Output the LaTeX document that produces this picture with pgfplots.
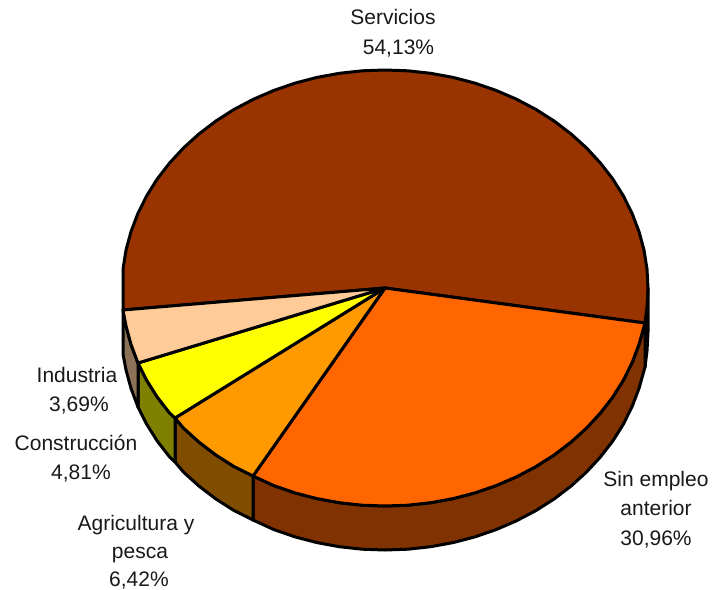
\documentclass[border=0pt]{standalone}
\usepackage{fontspec}
\setmainfont{Liberation Sans}
\usepackage{pgfplots}
\pgfplotsset{compat=1.18}

\definecolor{cServ}{HTML}{993300}
\definecolor{cSin}{HTML}{FF6600}
\definecolor{cAgr}{HTML}{FF9900}
\definecolor{cCon}{HTML}{FFFF00}
\definecolor{cInd}{HTML}{FFCC99}
\definecolor{wServ}{HTML}{4D1A00}
\definecolor{wSin}{HTML}{803300}
\definecolor{wAgr}{HTML}{804C00}
\definecolor{wCon}{HTML}{808000}
\definecolor{wInd}{HTML}{8C7358}

\newcommand{\lab}[3]{\node[anchor=base,inner sep=0pt,text=black!90] at (axis cs:#1,#2) {\fontsize{21bp}{25bp}\selectfont #3};}

\begin{document}
\begin{tikzpicture}
\begin{axis}[
    width=712bp,
    height=590bp,
    scale only axis,
    hide axis,
    clip=false,
    xmin=0, xmax=712,
    ymin=0, ymax=590,
    y dir=reverse,
    every axis plot/.append style={mark=none, draw=black, line width=3bp, line join=round},
]
% side walls
\addplot[fill=wServ] coordinates {
    (648,288)(647,307)(645,323)(645,367)(647,351)(648,332)
} -- cycle;
\addplot[fill=wSin] coordinates {
    (645,323)(639,344.4)(632.1,362.6)(623.4,380.1)(612.8,397)(600.4,413)(586.5,428.1)(571,442.1)
    (554.1,455)(535.9,466.6)(516.5,476.8)(496.1,485.6)(474.9,492.9)(453.1,498.6)(430.7,502.7)
    (407.9,505.2)(385,506)(362.1,505.2)(339.3,502.7)(316.9,498.6)(295.1,492.9)(273.9,485.6)(253,476)
    (253,520)(273.9,529.6)(295.1,536.9)(316.9,542.6)(339.3,546.7)(362.1,549.2)(385,550)(407.9,549.2)
    (430.7,546.7)(453.1,542.6)(474.9,536.9)(496.1,529.6)(516.5,520.8)(535.9,510.6)(554.1,499)
    (571,486.1)(586.5,472.1)(600.4,457)(612.8,441)(623.4,424.1)(632.1,406.6)(639,388.4)(645,367)
} -- cycle;
\addplot[fill=wAgr] coordinates {
    (253,476)(234.1,466.6)(215.9,455)(199,442.1)(183.5,428.1)(175,418)
    (175,462)(183.5,472.1)(199,486.1)(215.9,499)(234.1,510.6)(253,520)
} -- cycle;
\addplot[fill=wCon] coordinates {
    (175,418)(169.6,413)(157.2,397)(146.6,380.1)(138,363)
    (138,407)(146.6,424.1)(157.2,441)(169.6,457)(175,462)
} -- cycle;
\addplot[fill=wInd] coordinates {
    (138,363)(131,344.4)(126,325.9)(123,310)
    (123,354)(126,369.9)(131,388.4)(138,407)
} -- cycle;
% top of the pie
\addplot[fill=cServ] coordinates {
    (385,288)(123,310)(123,269)(126,250.1)(131,231.6)(137.9,213.4)(146.6,195.9)(157.2,179)
    (169.6,163)(183.5,147.9)(199,133.9)(215.9,121)(234.1,109.4)(253.5,99.2)(273.9,90.4)(295.1,83.1)
    (316.9,77.4)(339.3,73.3)(362.1,70.8)(385,70)(407.9,70.8)(430.7,73.3)(453.1,77.4)(474.9,83.1)
    (496.1,90.4)(516.5,99.2)(535.9,109.4)(554.1,121)(571,133.9)(586.5,147.9)(600.4,163)(612.8,179)
    (623.4,195.9)(632.1,213.4)(639,231.6)(644,250.1)(647,269)(648,288)(647,307)(645,323)
} -- cycle;
\addplot[fill=cSin] coordinates {
    (385,288)(645,323)(639,344.4)(632.1,362.6)(623.4,380.1)(612.8,397)(600.4,413)(586.5,428.1)(571,442.1)
    (554.1,455)(535.9,466.6)(516.5,476.8)(496.1,485.6)(474.9,492.9)(453.1,498.6)(430.7,502.7)
    (407.9,505.2)(385,506)(362.1,505.2)(339.3,502.7)(316.9,498.6)(295.1,492.9)(273.9,485.6)(253,476)
} -- cycle;
\addplot[fill=cAgr] coordinates {
    (385,288)(253,476)(234.1,466.6)(215.9,455)(199,442.1)(183.5,428.1)(175,418)
} -- cycle;
\addplot[fill=cCon] coordinates {
    (385,288)(175,418)(169.6,413)(157.2,397)(146.6,380.1)(138,363)
} -- cycle;
\addplot[fill=cInd] coordinates {
    (385,288)(138,363)(131,344.4)(126,325.9)(123,310)
} -- cycle;
% labels
\lab{393}{24}{Servicios}
\lab{398.5}{54}{54,13\%}
\lab{656}{486.5}{Sin empleo}
\lab{656}{515.5}{anterior}
\lab{656}{545}{30,96\%}
\lab{136}{530}{Agricultura y}
\lab{140}{558.5}{pesca}
\lab{139}{586.5}{6,42\%}
\lab{77}{382}{Industria}
\lab{79}{411}{3,69\%}
\lab{76}{450}{Construcción}
\lab{81}{479}{4,81\%}
\end{axis}
\pgfresetboundingbox
\path[use as bounding box] (0,0) rectangle (712bp,590bp);
\end{tikzpicture}
\end{document}
